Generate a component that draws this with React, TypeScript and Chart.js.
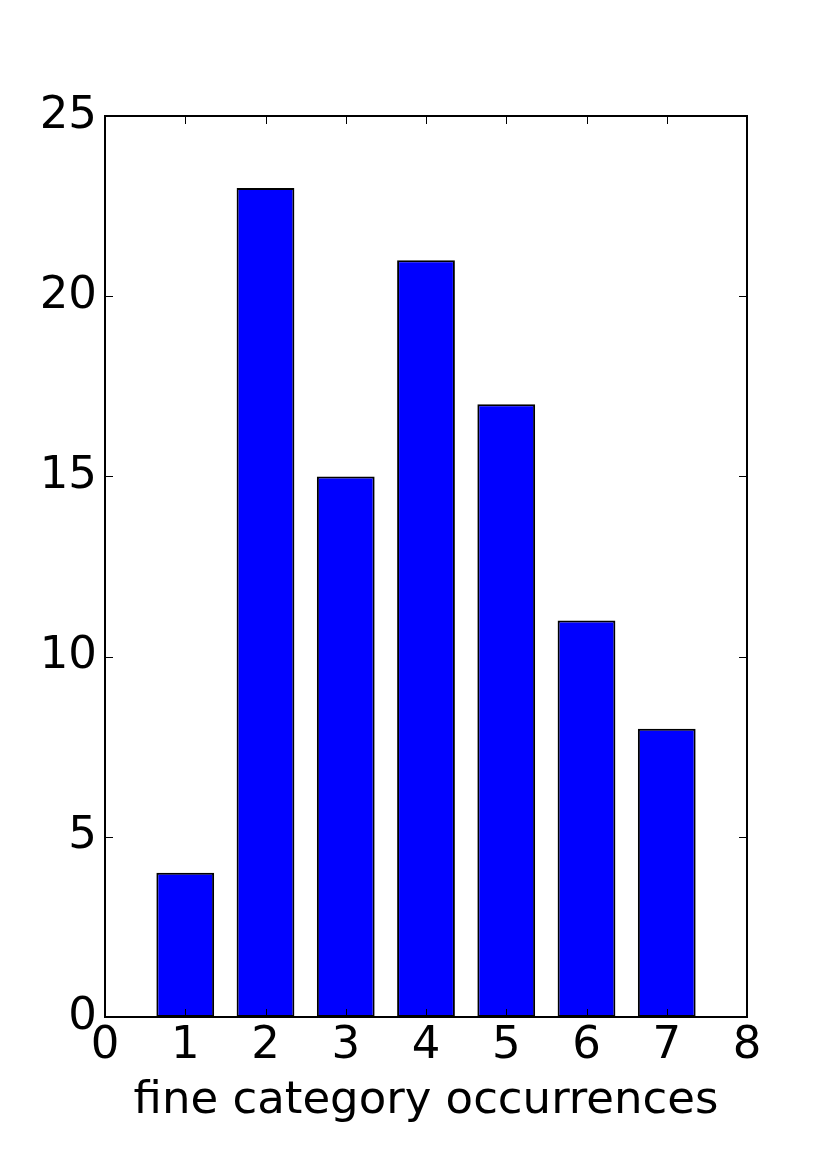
import React, { useEffect, useRef } from "react";
import { Chart, registerables } from "chart.js";

Chart.register(...registerables);

const categories = [1, 2, 3, 4, 5, 6, 7];
const occurrences = [4, 23, 15, 21, 17, 11, 8];
const xTickValues = [0, 1, 2, 3, 4, 5, 6, 7, 8];
const yTickValues = [0, 5, 10, 15, 20, 25];
const xTitle = "fine category occurrences";

const FONT = "'DejaVu Sans', sans-serif";

const framePlugin = {
  id: "mplFrame",
  afterDatasetsDraw(chart: any) {
    const { ctx, chartArea, scales } = chart;
    const { left, right, top, bottom } = chartArea;
    const tickLen = 8;
    ctx.save();
    ctx.strokeStyle = "#000000";
    ctx.lineWidth = 1;
    ctx.beginPath();
    for (const v of xTickValues) {
      const px = Math.round(scales.x.getPixelForValue(v)) + 0.5;
      ctx.moveTo(px, bottom);
      ctx.lineTo(px, bottom - tickLen);
      ctx.moveTo(px, top);
      ctx.lineTo(px, top + tickLen);
    }
    for (const v of yTickValues) {
      const py = Math.round(scales.y.getPixelForValue(v)) + 0.5;
      ctx.moveTo(left, py);
      ctx.lineTo(left + tickLen, py);
      ctx.moveTo(right, py);
      ctx.lineTo(right - tickLen, py);
    }
    ctx.stroke();
    ctx.lineWidth = 2;
    ctx.strokeRect(left, top, right - left, bottom - top);
    ctx.restore();
  },
};

export default function App() {
  const canvasRef = useRef<HTMLCanvasElement | null>(null);

  useEffect(() => {
    if (!canvasRef.current) return;
    const chart = new Chart(canvasRef.current, {
      type: "bar",
      data: {
        datasets: [
          {
            data: categories.map((c, i) => ({ x: c, y: occurrences[i] })),
            backgroundColor: "#0000ff",
            borderColor: "#000000",
            borderWidth: 2,
            borderSkipped: false,
            barPercentage: 0.72,
            categoryPercentage: 1.0,
          },
        ],
      },
      options: {
        animation: false,
        responsive: false,
        devicePixelRatio: 1,
        layout: { padding: { top: 116, right: 83, left: 0, bottom: 0 } },
        plugins: {
          legend: { display: false },
          tooltip: { enabled: false },
        },
        scales: {
          x: {
            type: "linear",
            offset: false,
            min: 0,
            max: 8,
            grid: { display: false, drawTicks: false, offset: false },
            border: { display: false },
            ticks: {
              stepSize: 1,
              autoSkip: false,
              maxRotation: 0,
              minRotation: 0,
              padding: 2,
              color: "#000000",
              font: { family: FONT, size: 45 },
              callback: (v: any) => String(v),
            },
            title: {
              display: true,
              text: xTitle,
              color: "#000000",
              font: { family: FONT, size: 45 },
              padding: { top: 0, bottom: 35 },
            },
            afterFit: (scale: any) => {
              scale.height = 146;
            },
          },
          y: {
            type: "linear",
            min: 0,
            max: 25,
            grid: { display: false, drawTicks: false },
            border: { display: false },
            ticks: {
              stepSize: 5,
              padding: 8,
              color: "#000000",
              font: { family: FONT, size: 45 },
              callback: (v: any) => String(v),
            },
            afterFit: (scale: any) => {
              scale.width = 105;
            },
          },
        },
      },
      plugins: [framePlugin],
    });
    return () => chart.destroy();
  }, []);

  return (
    <div style={{ position: "fixed", left: 0, top: 0, width: 830, height: 1163, background: "#ffffff" }}>
      <canvas ref={canvasRef} width={830} height={1163} />
    </div>
  );
}
